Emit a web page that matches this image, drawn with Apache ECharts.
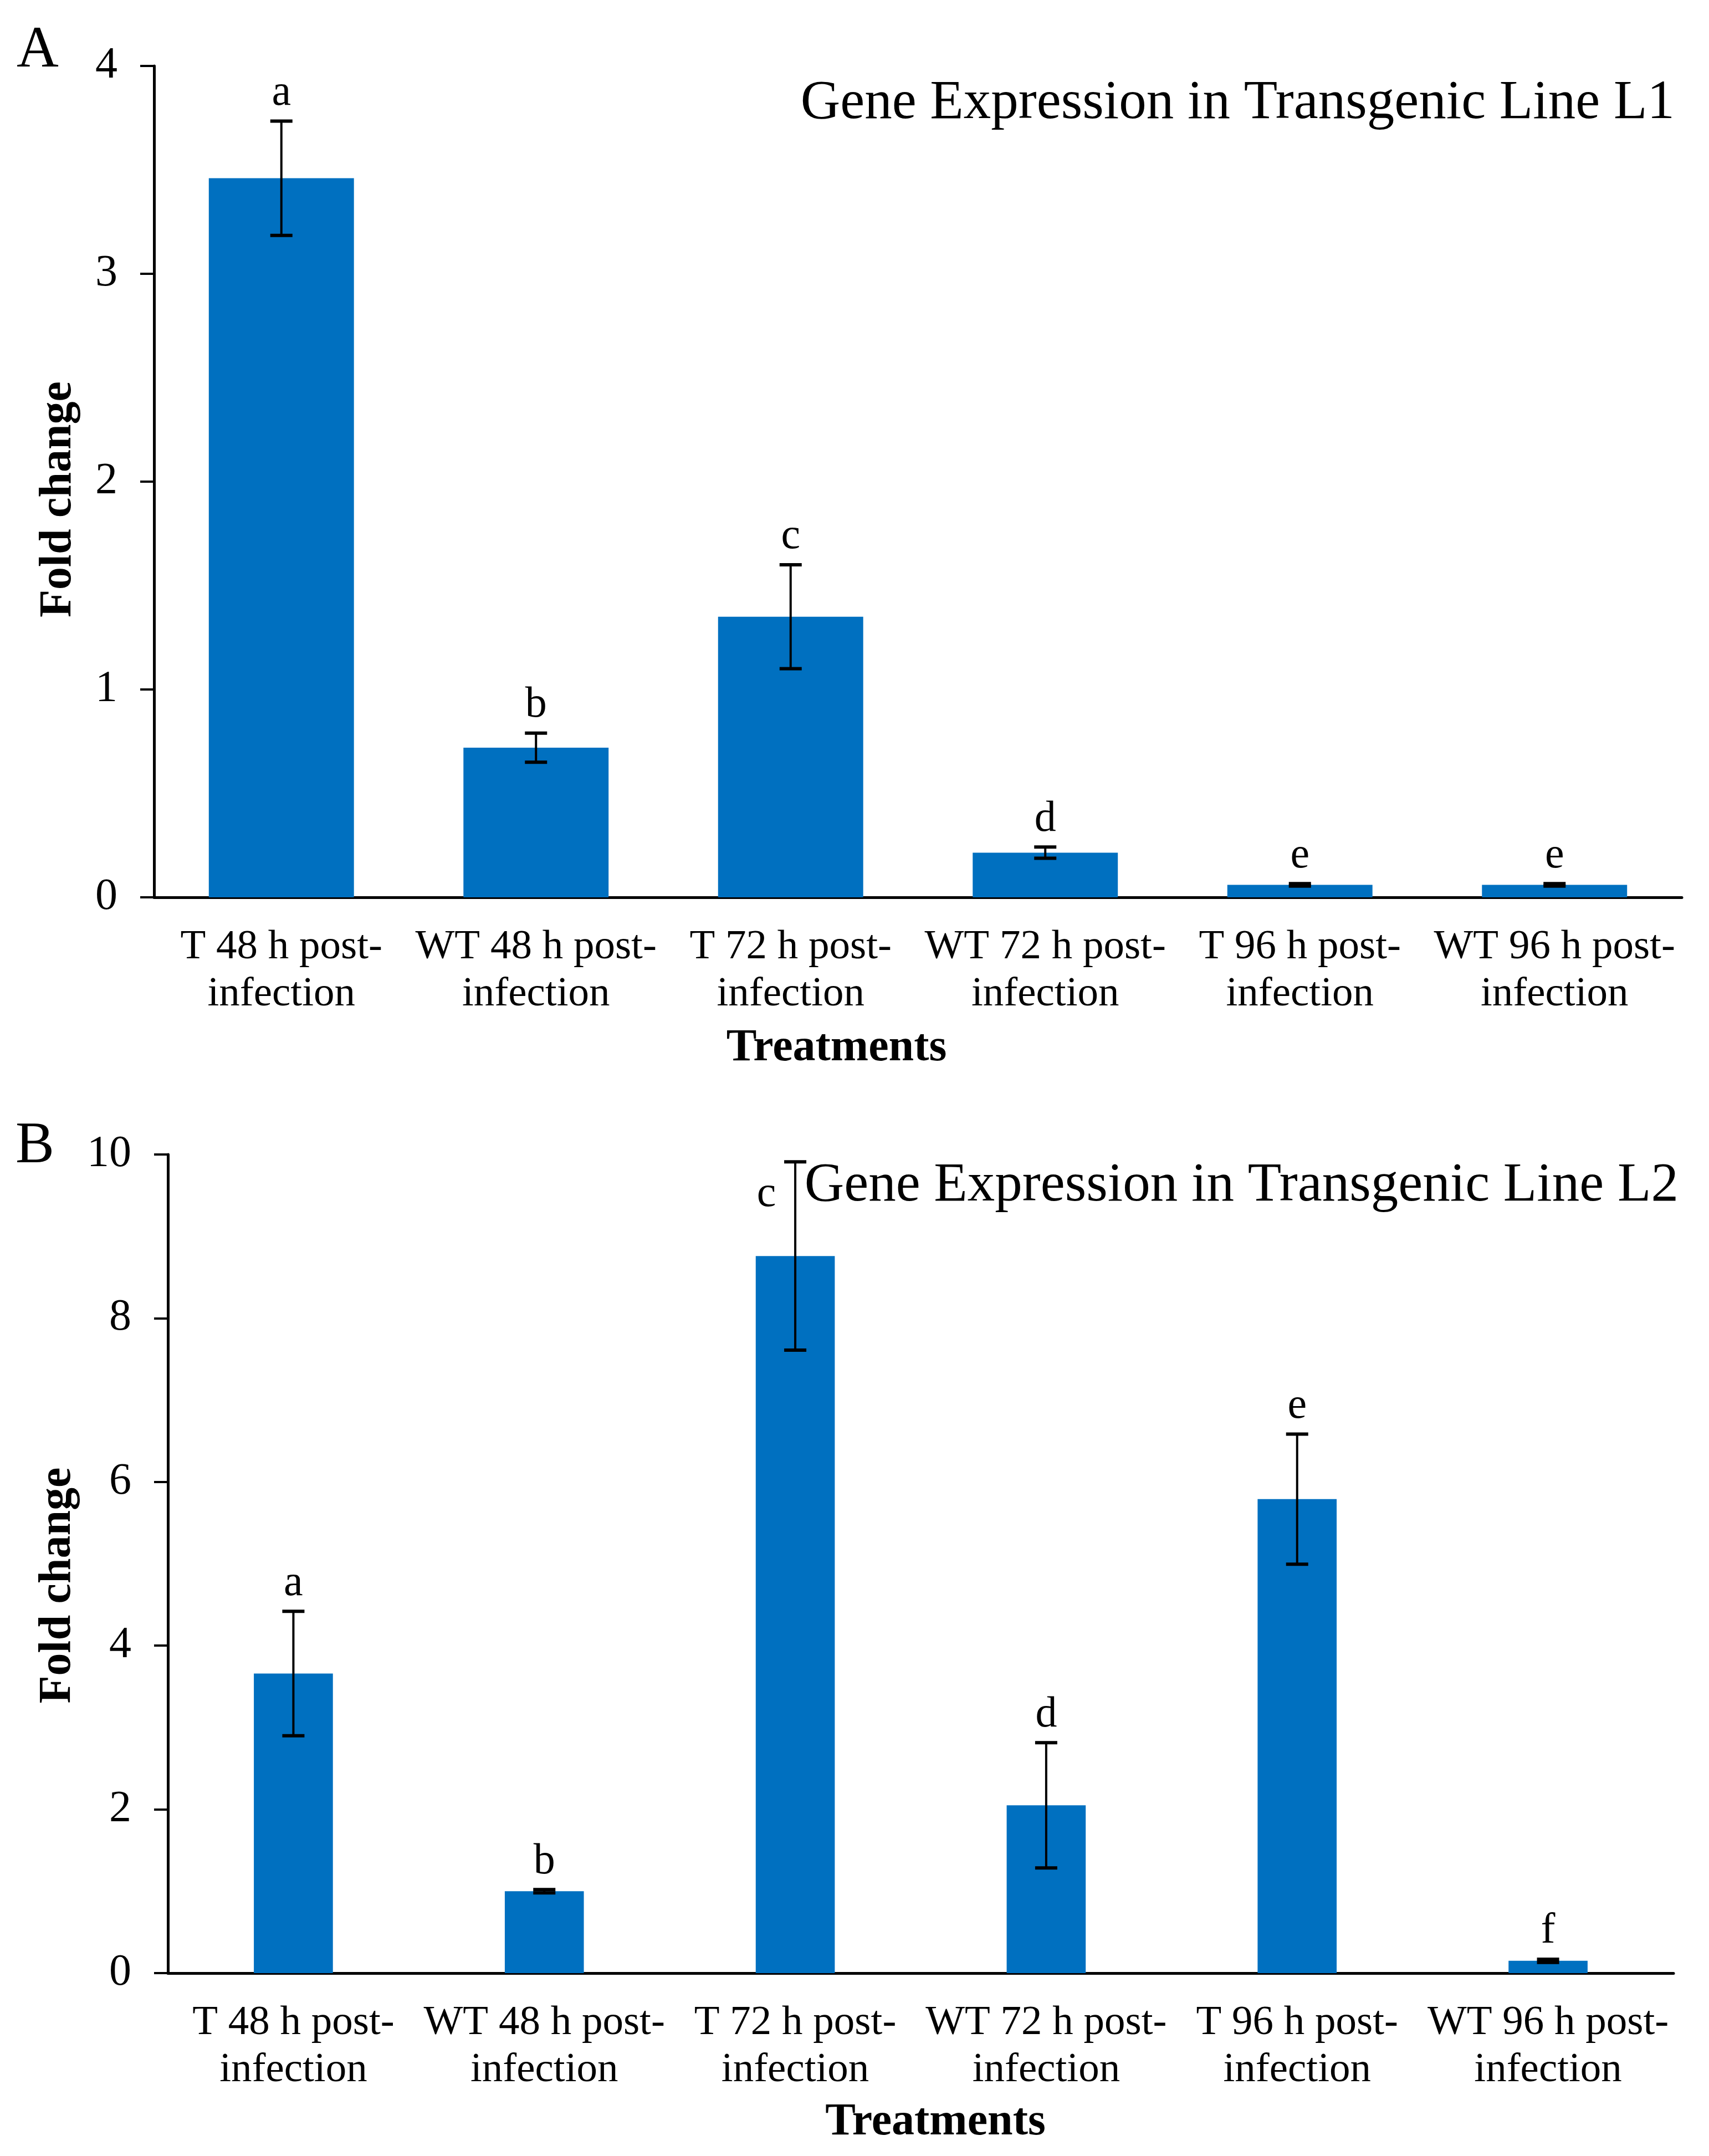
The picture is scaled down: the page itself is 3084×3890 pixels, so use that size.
<!DOCTYPE html>
<html>
<head>
<meta charset="utf-8">
<script src="https://cdn.jsdelivr.net/npm/echarts@6/dist/echarts.min.js"></script>
<style>
  html, body { margin: 0; padding: 0; background: #fff; }
  #main { width: 3084px; height: 3890px; }
</style>
</head>
<body>
<div id="main"></div>
<script>
// data
const categories = [
  'T 48 h post-\ninfection', 'WT 48 h post-\ninfection',
  'T 72 h post-\ninfection', 'WT 72 h post-\ninfection',
  'T 96 h post-\ninfection', 'WT 96 h post-\ninfection'
]
const meanL1 = [3.46, 0.72, 1.35, 0.215, 0.06, 0.06]
const errL1 = [0.275, 0.07, 0.25, 0.027, 0.006, 0.006]
const letterL1 = ['a', 'b', 'c', 'd', 'e', 'e']
const ticksL1 = [0, 1, 2, 3, 4]

const meanL2 = [3.66, 1.0, 8.76, 2.05, 5.79, 0.15]
const errL2 = [0.76, 0.02, 1.15, 0.765, 0.795, 0.02]
const letterL2 = ['a', 'b', 'c', 'd', 'e', 'f']
const ticksL2 = [0, 2, 4, 6, 8, 10]

const serif = '"Liberation Serif", "Times New Roman", serif'
const blue = '#0070C0'

const main = document.getElementById('main')
let myChart = echarts.init(main, null, { renderer: 'canvas' })

// letter offset from the top of the error bar (one letter in L2 is moved aside)
function errorSeries(idx, means, errs, letters, moved) {
  return {
    type: 'custom',
    xAxisIndex: idx,
    yAxisIndex: idx,
    z: 5,
    silent: true,
    encode: { x: 0, y: [1, 2] },
    data: means.map((m, i) => [i, m - errs[i], m + errs[i]]),
    renderItem(params, api) {
      const i = api.value(0)
      const lo = api.coord([i, api.value(1)])
      const hi = api.coord([i, api.value(2)])
      const cap = 20
      const off = moved[i] || [0, -50]
      return {
        type: 'group',
        children: [
          { type: 'line', shape: { x1: lo[0], y1: lo[1], x2: hi[0], y2: hi[1] },
            style: { stroke: '#000', lineWidth: 4 } },
          { type: 'line', shape: { x1: hi[0] - cap, y1: hi[1], x2: hi[0] + cap, y2: hi[1] },
            style: { stroke: '#000', lineWidth: 6 } },
          { type: 'line', shape: { x1: lo[0] - cap, y1: lo[1], x2: lo[0] + cap, y2: lo[1] },
            style: { stroke: '#000', lineWidth: 6 } },
          { type: 'text', x: hi[0] + off[0], y: hi[1] + off[1],
            style: { text: letters[params.dataIndex], fill: '#000', font: '78px ' + serif,
                     align: 'center', verticalAlign: 'middle' } }
        ]
      }
    }
  }
}

function xAxisFor(idx, gap, pad) {
  return {
    gridIndex: idx,
    type: 'category',
    data: categories,
    axisLine: { lineStyle: { color: '#000', width: 5 } },
    axisTick: { length: 24, lineStyle: { color: '#000', width: 4 } },
    axisLabel: { interval: 0, fontFamily: serif, fontSize: 75, color: '#000', lineHeight: 85, margin: 48 },
    name: 'Treatments',
    nameLocation: 'middle',
    nameGap: gap,
    nameTextStyle: { fontFamily: serif, fontWeight: 'bold', fontSize: 82, color: '#000', padding: pad }
  }
}

function yAxisFor(idx, ticks, gap, pad) {
  return {
    gridIndex: idx,
    type: 'value',
    min: ticks[0],
    max: ticks[ticks.length - 1],
    interval: ticks[1] - ticks[0],
    splitLine: { show: false },
    axisLine: { show: true, lineStyle: { color: '#000', width: 5 } },
    axisTick: { show: true, length: 25, lineStyle: { color: '#000', width: 4 } },
    axisLabel: { fontFamily: serif, fontSize: 80, color: '#000', margin: 66 },
    name: 'Fold change',
    nameLocation: 'middle',
    nameRotate: 90,
    nameGap: gap,
    nameTextStyle: { fontFamily: serif, fontWeight: 'bold', fontSize: 82, color: '#000', padding: pad }
  }
}

myChart.setOption({
  animation: false,
  backgroundColor: '#fff',
  title: [
    { text: 'A', left: 30, top: 40, padding: 0,
      textStyle: { fontFamily: serif, fontWeight: 'normal', fontSize: 105, color: '#000' } },
    { text: 'Gene Expression in Transgenic Line L1', right: 62, top: 137, padding: 0,
      textStyle: { fontFamily: serif, fontWeight: 'normal', fontSize: 99, color: '#000' } },
    { text: 'B', left: 28, top: 2017, padding: 0,
      textStyle: { fontFamily: serif, fontWeight: 'normal', fontSize: 105, color: '#000' } },
    { text: 'Gene Expression in Transgenic Line L2', right: 55, top: 2090, padding: 0,
      textStyle: { fontFamily: serif, fontWeight: 'normal', fontSize: 99, color: '#000' } }
  ],
  grid: [
    { left: 278, top: 119, width: 2757, height: 1500 },
    { left: 303, top: 2083, width: 2717, height: 1477 }
  ],
  xAxis: [
    xAxisFor(0, 232, [0, 294, 0, 0]),
    xAxisFor(1, 229, [0, 0, 0, 53])
  ],
  yAxis: [
    yAxisFor(0, ticksL1, 131, [0, 64, 0, 0]),
    yAxisFor(1, ticksL2, 143, [0, 78, 0, 0])
  ],
  series: [
    { type: 'bar', xAxisIndex: 0, yAxisIndex: 0, data: meanL1, barWidth: '57%',
      itemStyle: { color: blue } },
    { type: 'bar', xAxisIndex: 1, yAxisIndex: 1, data: meanL2, barWidth: '31.5%',
      itemStyle: { color: blue } },
    errorSeries(0, meanL1, errL1, letterL1, {}),
    errorSeries(1, meanL2, errL2, letterL2, { 2: [-52, 59] })
  ]
})
</script>
</body>
</html>
